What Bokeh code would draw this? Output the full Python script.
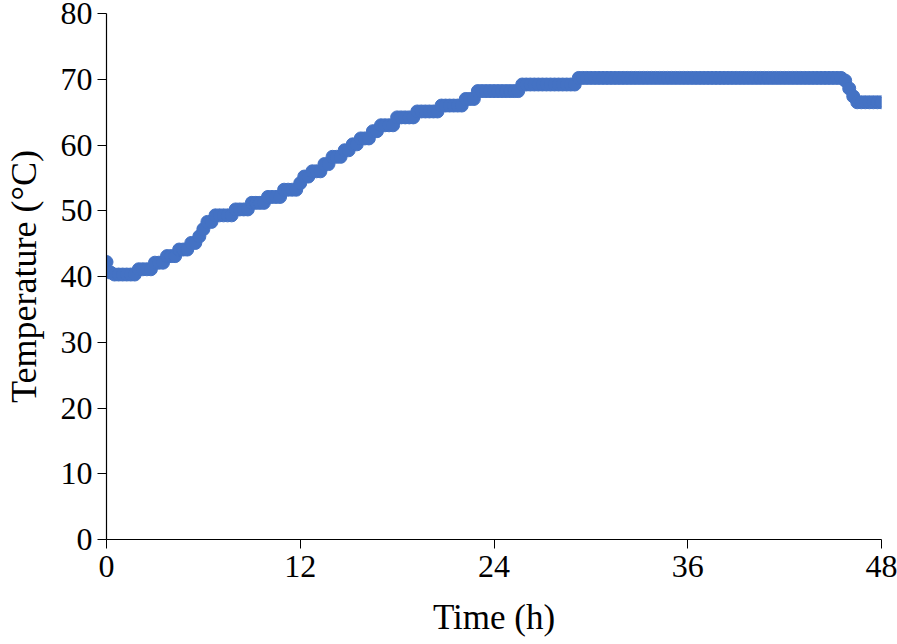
import numpy as np
from bokeh.plotting import figure
from bokeh.models import Range1d, FixedTicker
from bokeh.embed import file_html
from bokeh.resources import INLINE

# Time axis sampled every 0.25 h (0 .. 48 h)
time_h = list(np.arange(0, 48.001, 0.25))

# Temperature readings (°C), one per sample
temp_c = (
    [42.2]
    + [40.6, 40.3, 40.3, 40.3, 40.3, 40.3, 40.3]
    + [41.1, 41.1, 41.1, 41.1]
    + [42.1, 42.1, 42.1]
    + [43.1, 43.1, 43.1]
    + [44.1, 44.1, 44.1]
    + [45.1, 45.1]
    + [46.1]
    + [47.2]
    + [48.3, 48.3]
    + [49.3, 49.3, 49.3, 49.3, 49.3]
    + [50.2, 50.2, 50.2, 50.2]
    + [51.2, 51.2, 51.2, 51.2]
    + [52.1, 52.1, 52.1, 52.1]
    + [53.2, 53.2, 53.2, 53.2]
    + [54.2]
    + [55.2, 55.2]
    + [56.0, 56.0, 56.0]
    + [57.1, 57.1]
    + [58.2, 58.2, 58.2]
    + [59.2, 59.2]
    + [60.1, 60.1]
    + [61.0, 61.0, 61.0]
    + [62.1, 62.1]
    + [63.0, 63.0, 63.0, 63.0]
    + [64.2, 64.2, 64.2, 64.2, 64.2]
    + [65.1, 65.1, 65.1, 65.1, 65.1, 65.1]
    + [66.0, 66.0, 66.0, 66.0, 66.0, 66.0]
    + [67.0, 67.0, 67.0]
    + [68.2] * 11
    + [69.2] * 14
    + [70.2] * 66
    + [69.8, 68.6, 67.4]
    + [66.5] * 7
)

x_ticks = [0, 12, 24, 36, 48]
y_ticks = [0, 10, 20, 30, 40, 50, 60, 70, 80]

FONT = "Liberation Serif"
BLUE = "#4472C4"

p = figure(
    output_backend="svg", toolbar_location=None,
    width=894, height=641,
    frame_width=775, frame_height=526,
    min_border_left=103, min_border_right=16, min_border_top=13, min_border_bottom=102,
    x_range=Range1d(0, 48), y_range=Range1d(0, 80),
)
p.outline_line_color = None
p.xgrid.visible = False
p.ygrid.visible = False
p.background_fill_color = "white"
p.border_fill_color = "white"

p.scatter(time_h, temp_c, size=13, marker="circle", fill_color=BLUE, line_color=BLUE)

for ax in (p.xaxis[0], p.yaxis[0]):
    ax.axis_line_color = "black"
    ax.axis_line_width = 1.2
    ax.major_tick_line_color = "black"
    ax.major_tick_in = 0
    ax.major_tick_out = 9
    ax.minor_tick_line_color = None
    ax.major_label_text_font = FONT
    ax.major_label_text_font_size = "32px"
    ax.major_label_text_color = "black"
    ax.axis_label_text_font = FONT
    ax.axis_label_text_font_style = "normal"
    ax.axis_label_text_color = "black"

p.xaxis.ticker = FixedTicker(ticks=x_ticks)
p.yaxis.ticker = FixedTicker(ticks=y_ticks)
p.xaxis.major_label_standoff = 7
p.yaxis.major_label_standoff = 5
p.xaxis.axis_label = "Time (h)"
p.yaxis.axis_label = "Temperature (°C)"
p.xaxis.axis_label_text_font_size = "35px"
p.yaxis.axis_label_text_font_size = "36px"
p.xaxis.axis_label_standoff = 18
p.yaxis.axis_label_standoff = 14

open("out.html", "w").write(file_html(p, INLINE))
